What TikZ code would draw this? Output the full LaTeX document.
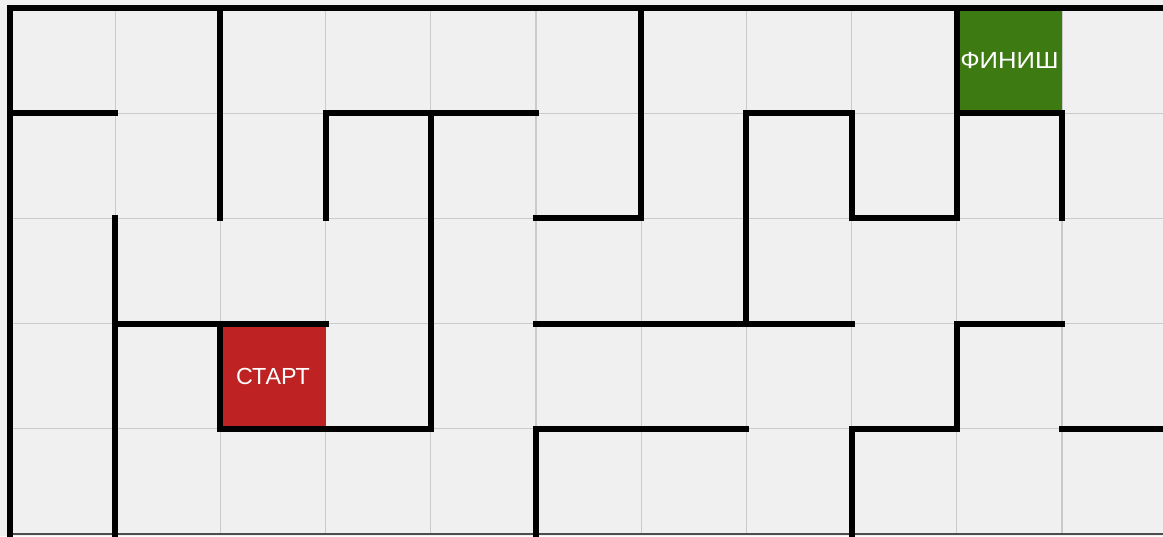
\documentclass[tikz,border=0pt]{standalone}
\usepackage{fontspec}
\setmainfont{Liberation Sans}
\definecolor{cellbg}{HTML}{F0F0F0}
\definecolor{gridgray}{HTML}{CACACA}
\definecolor{startred}{HTML}{BE2222}
\definecolor{finishgreen}{HTML}{3D7A12}
\tikzset{
  wall/.style={line width=1.6pt, line cap=rect, line join=miter},
  gridline/.style={gridgray, line width=0.3pt},
  celltext/.style={white, font=\fontsize{6.3}{7}\selectfont, inner sep=0pt}
}
\begin{document}
\begin{tikzpicture}[x=1cm, y=1cm]
  % рамка рисунка
  \useasboundingbox (-0.095,-0.019) rectangle (10.96,5.076);
  \fill[cellbg] (-0.095,-0.019) rectangle (10.96,5.076);

  % сетка клеток
  \draw[gridline] (0,0) grid (11,5);
  \draw[gray!60!black, line width=0.4pt] (0,0) -- (11,0);

  % старт и финиш
  \fill[startred] (2,1) rectangle (3,2);
  \fill[finishgreen] (9,4) rectangle (10,5);
  \node[celltext] (start) at (2.5,1.5) {СТАРТ};
  \node[celltext, xscale=1.1] (finish) at (9.5,4.5) {ФИНИШ};

  % внешние стены
  \draw[wall] (0,0) -- (0,5) -- (11,5);

  % внутренние стены
  \draw[wall] (0,4) -- (1,4);
  \draw[wall] (2,5) -- (2,3);
  \draw[wall] (3,3) -- (3,4) -- (5,4);
  \draw[wall] (2,2) -- (2,1) -- (4,1) -- (4,4);
  \draw[wall] (1,0) -- (1,3);
  \draw[wall] (1,2) -- (3,2);
  \draw[wall] (5,3) -- (6,3) -- (6,5);
  \draw[wall] (7,2) -- (7,4) -- (8,4) -- (8,3) -- (9,3) -- (9,5);
  \draw[wall] (9,4) -- (10,4) -- (10,3);
  \draw[wall] (5,2) -- (8,2);
  \draw[wall] (5,0) -- (5,1) -- (7,1);
  \draw[wall] (8,0) -- (8,1) -- (9,1) -- (9,2) -- (10,2);
  \draw[wall] (10,1) -- (11,1);
\end{tikzpicture}
\end{document}
